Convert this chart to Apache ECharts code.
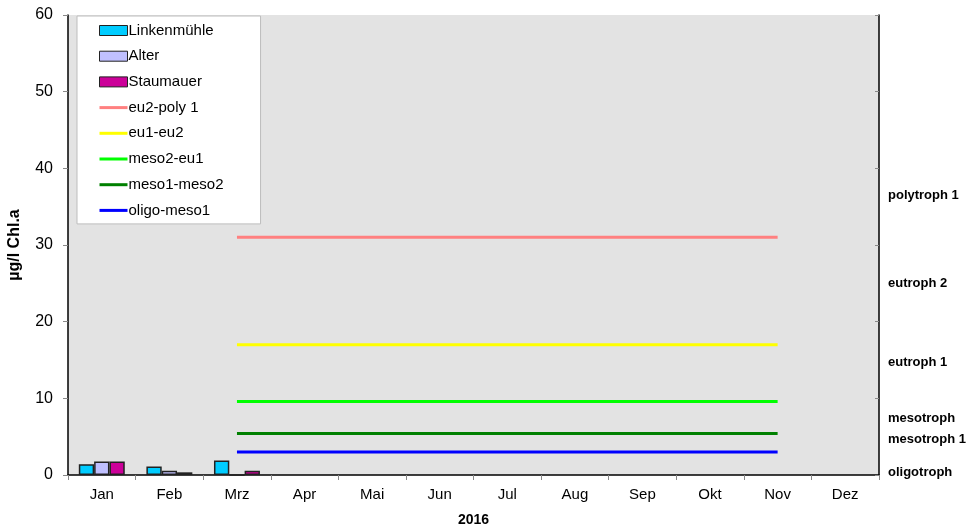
<!DOCTYPE html>
<html>
<head>
<meta charset="utf-8">
<script src="https://cdn.jsdelivr.net/npm/echarts@6/dist/echarts.min.js"></script>
<style>
  html, body { margin: 0; padding: 0; background: #fff; }
  #chart { width: 975px; height: 527px; }
</style>
</head>
<body>
<div id="chart"></div>
<script>
// Months of 2016
const months = ['Jan', 'Feb', 'Mrz', 'Apr', 'Mai', 'Jun', 'Jul', 'Aug', 'Sep', 'Okt', 'Nov', 'Dez'];

// Chlorophyll a (µg/l) per sampling site
const linkenmuehle = [1.4, 1.1, 1.9, null, null, null, null, null, null, null, null, null];
const alter        = [1.75, 0.55, 0, null, null, null, null, null, null, null, null, null];
const staumauer    = [1.75, 0.35, 0.55, null, null, null, null, null, null, null, null, null];

// Trophic class boundaries, drawn from Mrz to Nov
const boundaryMonths = ['Mrz', 'Apr', 'Mai', 'Jun', 'Jul', 'Aug', 'Sep', 'Okt', 'Nov'];
const eu2Poly1   = 31;
const eu1Eu2     = 17;
const meso2Eu1   = 9.6;
const meso1Meso2 = 5.4;
const oligoMeso1 = 3;

// Trophic class names on the right axis and the values they sit at
const trophicNames  = ['oligotroph', 'mesotroph 1', 'mesotroph', 'eutroph 1', 'eutroph 2', 'polytroph 1'];
const trophicValues = [0.4, 4.7, 7.4, 14.7, 25, 36.5];

// Y axis ticks
const yTicks = [0, 10, 20, 30, 40, 50, 60];

// Flat legend icon for the boundary lines
const lineIcon = 'path://M0,0 L28,0 L28,3 L0,3 Z';

function boundarySeries(value) {
  return months.map(m => boundaryMonths.includes(m) ? value : null);
}

function lineSeries(name, value, color) {
  return {
    name: name,
    type: 'line',
    data: boundarySeries(value),
    symbol: 'none',
    lineStyle: { color: color, width: 3 },
    itemStyle: { color: color },
    yAxisIndex: 0,
    z: 3
  };
}

function barSeries(name, data, color) {
  return {
    name: name,
    type: 'bar',
    data: data,
    barGap: '0%',
    barCategoryGap: '32%',
    itemStyle: { color: color, borderColor: '#222', borderWidth: 1.5 },
    z: 4
  };
}

const barLegend  = name => ({ name: name, icon: 'rect', itemStyle: { borderWidth: 1, borderColor: '#222' } });
const lineLegend = name => ({ name: name, icon: lineIcon, itemStyle: { borderWidth: 0 } });

const chart = echarts.init(document.getElementById('chart'), null, { renderer: 'canvas' });

chart.setOption({
  animation: false,
  backgroundColor: '#ffffff',
  textStyle: { fontFamily: 'Liberation Sans, Arial, sans-serif', color: '#000' },
  grid: {
    left: 68, right: 96, top: 15, bottom: 52,
    outerBoundsMode: 'none',
    containLabel: false,
    show: true, backgroundColor: '#e3e3e3', borderWidth: 0
  },
  legend: {
    orient: 'vertical',
    left: 77, top: 16,
    padding: [7, 37, 6, 22],
    itemWidth: 28, itemHeight: 10,
    itemGap: 10.7,
    backgroundColor: '#ffffff',
    borderColor: '#bdbdbd', borderWidth: 1,
    textStyle: { fontSize: 15, color: '#000', padding: [0, 0, 0, -4] },
    data: [
      barLegend('Linkenmühle'),
      barLegend('Alter'),
      barLegend('Staumauer'),
      lineLegend('eu2-poly 1'),
      lineLegend('eu1-eu2'),
      lineLegend('meso2-eu1'),
      lineLegend('meso1-meso2'),
      lineLegend('oligo-meso1')
    ]
  },
  xAxis: {
    type: 'category',
    data: months,
    boundaryGap: true,
    name: '2016',
    nameLocation: 'middle',
    nameGap: 38,
    nameTextStyle: { fontSize: 14, fontWeight: 'bold', color: '#000' },
    axisLine: { lineStyle: { color: '#000', width: 1.5 } },
    axisTick: { show: true, length: 5, lineStyle: { color: '#888' } },
    axisLabel: { fontSize: 15, color: '#000', margin: 12 },
    splitLine: { show: false }
  },
  yAxis: [
    {
      type: 'value',
      min: 0, max: 60, interval: 10,
      name: 'µg/l Chl.a',
      nameLocation: 'middle',
      nameGap: 45,
      nameTextStyle: { fontSize: 16, fontWeight: 'bold', color: '#000' },
      axisLine: { show: true, lineStyle: { color: '#000', width: 1.5 } },
      axisTick: { show: true, length: 5, lineStyle: { color: '#888' } },
      axisLabel: { fontSize: 16, color: '#000', margin: 15 },
      splitLine: { show: false }
    },
    {
      type: 'value',
      position: 'right',
      min: 0, max: 60,
      axisLine: { show: true, lineStyle: { color: '#000', width: 1.5 } },
      axisTick: { show: true, inside: true, length: 4, lineStyle: { color: '#888' }, customValues: yTicks },
      axisLabel: {
        customValues: trophicValues,
        fontSize: 13, fontWeight: 'bold', color: '#000', margin: 9,
        formatter: v => {
          const i = trophicValues.indexOf(v);
          return i >= 0 ? trophicNames[i] : '';
        }
      },
      splitLine: { show: false }
    }
  ],
  series: [
    barSeries('Linkenmühle', linkenmuehle, '#00ccff'),
    barSeries('Alter', alter, '#c0c0ff'),
    barSeries('Staumauer', staumauer, '#cc0099'),
    lineSeries('eu2-poly 1', eu2Poly1, '#ff8080'),
    lineSeries('eu1-eu2', eu1Eu2, '#ffff00'),
    lineSeries('meso2-eu1', meso2Eu1, '#00ff00'),
    lineSeries('meso1-meso2', meso1Meso2, '#008000'),
    lineSeries('oligo-meso1', oligoMeso1, '#0000ff')
  ]
});
</script>
</body>
</html>
